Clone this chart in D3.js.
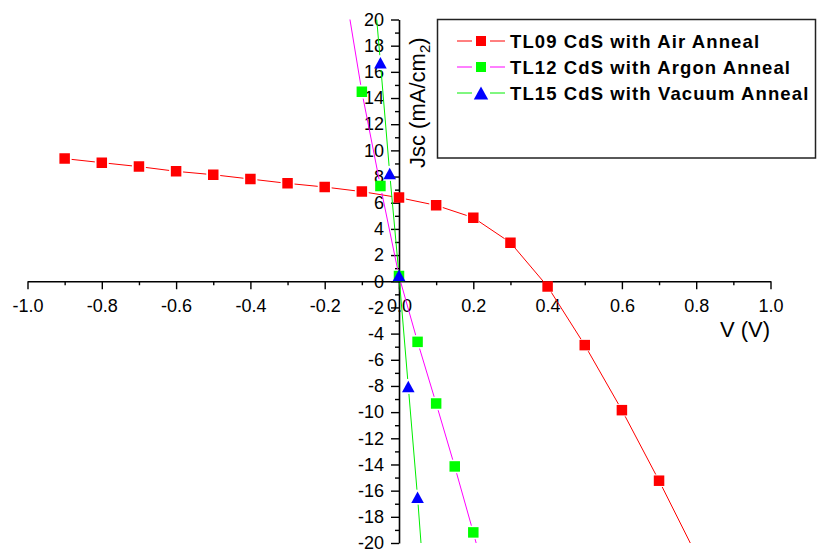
<!DOCTYPE html>
<html>
<head>
<meta charset="utf-8">
<script src="https://cdn.jsdelivr.net/npm/d3@7"></script>
<style>
  html, body { margin: 0; padding: 0; background: #fff; }
  svg { display: block; font-family: "Liberation Sans", Arial, sans-serif; }
</style>
</head>
<body>
<svg id="chart" width="817" height="552"></svg>
<script>
// J–V curves of CdS devices after three different anneals
const seriesNames = [
  "TL09 CdS with Air Anneal",
  "TL12 CdS with Argon Anneal",
  "TL15 CdS with Vacuum Anneal"
];

// Air anneal (V in volts, Jsc in mA/cm²)
const airV = [-0.9, -0.8, -0.7, -0.6, -0.5, -0.4, -0.3, -0.2, -0.1, 0.0, 0.1, 0.2, 0.3, 0.4, 0.5, 0.6, 0.7, 0.8];
const airJ = [9.37, 9.06, 8.76, 8.40, 8.14, 7.81, 7.48, 7.20, 6.85, 6.39, 5.80, 4.86, 2.95, -0.40, -4.88, -9.85, -15.24, -20.9];

// Argon anneal
const argonV = [-0.15, -0.10, -0.05, 0.0, 0.05, 0.10, 0.15, 0.20, 0.25];
const argonJ = [23.1, 14.48, 7.27, 0.40, -4.63, -9.34, -14.15, -19.19, -24.5];

// Vacuum anneal
const vacuumV = [-0.075, -0.05, -0.025, 0.0, 0.025, 0.05, 0.075];
const vacuumJ = [25.0, 16.7, 8.24, 0.46, -8.04, -16.5, -26.0];

// Axis ticks
const xMajorTicks = [-1.0, -0.8, -0.6, -0.4, -0.2, 0.0, 0.2, 0.4, 0.6, 0.8, 1.0];
const xTickLabels = ["-1.0", "-0.8", "-0.6", "-0.4", "-0.2", "0.0", "0.2", "0.4", "0.6", "0.8", "1.0"];
const xMinorTicks = [-0.9, -0.7, -0.5, -0.3, -0.1, 0.1, 0.3, 0.5, 0.7, 0.9];
const yMajorTicks = [-20, -18, -16, -14, -12, -10, -8, -6, -4, -2, 0, 2, 4, 6, 8, 10, 12, 14, 16, 18, 20];
const yTickLabels = ["-20", "-18", "-16", "-14", "-12", "-10", "-8", "-6", "-4", "-2", "0", "2", "4", "6", "8", "10", "12", "14", "16", "18", "20"];
const yMinorTicks = [-19, -17, -15, -13, -11, -9, -7, -5, -3, -1, 1, 3, 5, 7, 9, 11, 13, 15, 17, 19];

const lineColors = ["#ff0000", "#ff00ff", "#00ee00"];
const markerColors = ["#ff0000", "#00ff00", "#0000ff"];
const markerShapes = ["square", "square", "triangle"];

const svg = d3.select("#chart");

const x = d3.scaleLinear().domain([-1, 1]).range([27.5, 770.5]);
const y = d3.scaleLinear().domain([-20, 20]).range([543, 19.5]);

// clip region = plotting rectangle
svg.append("defs").append("clipPath").attr("id", "plotClip")
  .append("rect")
  .attr("x", x(-1)).attr("y", y(20))
  .attr("width", x(1) - x(-1)).attr("height", y(-20) - y(20));

// ---- axes crossing at the origin ----
const xAxisG = svg.append("g").attr("transform", `translate(0,${y(0)})`);
xAxisG.call(d3.axisBottom(x).tickValues(xMinorTicks).tickSize(4).tickSizeOuter(0).tickFormat(""));
xAxisG.call(g => g.select(".domain").remove());
svg.append("g").attr("transform", `translate(0,${y(0)})`)
  .call(d3.axisBottom(x).tickValues(xMajorTicks).tickSize(8).tickSizeOuter(0).tickPadding(10)
    .tickFormat((d, i) => xTickLabels[i]));

const yAxisG = svg.append("g").attr("transform", `translate(${x(0)},0)`);
yAxisG.call(d3.axisLeft(y).tickValues(yMinorTicks).tickSize(4).tickSizeOuter(0).tickFormat(""));
yAxisG.call(g => g.select(".domain").remove());
svg.append("g").attr("transform", `translate(${x(0)},0)`)
  .call(d3.axisLeft(y).tickValues(yMajorTicks).tickSize(8).tickSizeOuter(0).tickPadding(7)
    .tickFormat((d, i) => yTickLabels[i]));

svg.selectAll(".domain").attr("stroke", "#000").attr("stroke-width", 1.6);
svg.selectAll(".tick line").attr("stroke", "#000").attr("stroke-width", 1.4);
svg.selectAll(".tick text")
  .attr("fill", "#000")
  .style("font-family", '"Liberation Sans", Arial, sans-serif')
  .style("font-size", "18px");

// ---- axis titles ----
svg.append("text")
  .attr("x", 770).attr("y", 337)
  .attr("text-anchor", "end")
  .style("font-size", "22px")
  .text("V (V)");

const yTitle = svg.append("text")
  .attr("transform", "translate(425,168) rotate(-90)")
  .attr("text-anchor", "start")
  .style("font-size", "22px");
yTitle.append("tspan").text("Jsc (mA/cm");
yTitle.append("tspan").attr("dy", 5).style("font-size", "15px").text("2");
yTitle.append("tspan").attr("dy", -5).text(")");

// ---- series ----
const series = [
  { v: airV, j: airJ },
  { v: argonV, j: argonJ },
  { v: vacuumV, j: vacuumJ }
];

const plot = svg.append("g").attr("clip-path", "url(#plotClip)");

function markerPath(shape, s) {
  if (shape === "square") {
    const h = s / 2;
    return `M${-h},${-h}H${h}V${h}H${-h}Z`;
  }
  const w = s * 1.2, ht = s * 1.1;
  return `M0,${-ht / 2}L${w / 2},${ht / 2}L${-w / 2},${ht / 2}Z`;
}

series.forEach((sr, k) => {
  const pts = sr.v.map((v, i) => [x(v), y(sr.j[i])]);
  const gap = markerShapes[k] === "triangle" ? 7.5 : 7;
  // line segments stop short of each symbol
  const segs = [];
  for (let i = 0; i < pts.length - 1; i++) {
    const [x1, y1] = pts[i], [x2, y2] = pts[i + 1];
    const len = Math.hypot(x2 - x1, y2 - y1);
    if (len <= 2 * gap) continue;
    const ux = (x2 - x1) / len, uy = (y2 - y1) / len;
    segs.push([[x1 + ux * gap, y1 + uy * gap], [x2 - ux * gap, y2 - uy * gap]]);
  }
  plot.append("g").selectAll("line").data(segs).join("line")
    .attr("x1", d => d[0][0]).attr("y1", d => d[0][1])
    .attr("x2", d => d[1][0]).attr("y2", d => d[1][1])
    .attr("stroke", lineColors[k]).attr("stroke-width", 1);
  plot.append("g").selectAll("path").data(pts).join("path")
    .attr("transform", d => `translate(${d[0]},${d[1]})`)
    .attr("d", markerPath(markerShapes[k], 10.5))
    .attr("fill", markerColors[k]);
});

// ---- legend ----
const legend = svg.append("g");
legend.append("rect")
  .attr("x", 437.5).attr("y", 19.5).attr("width", 378).attr("height", 138.5)
  .attr("fill", "#fff").attr("stroke", "#222").attr("stroke-width", 1.5);

const rowY = [41, 67, 93];
seriesNames.forEach((name, k) => {
  const g = legend.append("g").attr("transform", `translate(0,${rowY[k]})`);
  g.append("line").attr("x1", 457).attr("x2", 472).attr("y1", 0).attr("y2", 0)
    .attr("stroke", lineColors[k]).attr("stroke-width", 1);
  g.append("line").attr("x1", 490).attr("x2", 505).attr("y1", 0).attr("y2", 0)
    .attr("stroke", lineColors[k]).attr("stroke-width", 1);
  g.append("path").attr("transform", "translate(481,0)")
    .attr("d", markerPath(markerShapes[k], markerShapes[k] === "triangle" ? 12 : 10))
    .attr("fill", markerColors[k]);
  g.append("text").attr("x", 510).attr("y", 6.5)
    .style("font-size", "18.5px").style("font-weight", "bold")
    .style("letter-spacing", "1.1px")
    .text(name);
});
</script>
</body>
</html>
